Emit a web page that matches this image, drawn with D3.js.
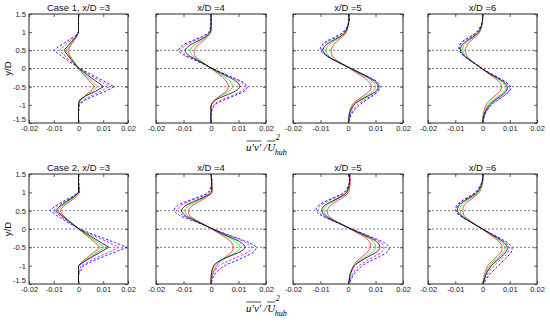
<!DOCTYPE html>
<html>
<head>
<meta charset="utf-8">
<script src="https://cdn.jsdelivr.net/npm/d3@7"></script>
<style>
  body { margin: 0; background: #fff; }
  svg { display: block; }
  text { font-family: "Liberation Sans", Arial, sans-serif; }
</style>
</head>
<body>
<div id="chart"></div>
<script>
// y/D stations shared by every profile (top to bottom)
const yD = [1.5, 1.25, 1.0, 0.875, 0.75, 0.625, 0.5, 0.375, 0.25, 0.125, 0, -0.125, -0.25, -0.375, -0.5, -0.625, -0.75, -0.875, -1.0, -1.25, -1.5];

// order of the rows inside every panel array below
const seriesNames = ['red', 'green', 'magenta', 'blue', 'black'];

// u'v'/U_hub^2 profiles, values in units of 1e-3
const case1XD3 = [
  [0, 0, 0, -0.7, -2.0, -3.2, -4.2, -3.7, -2.5, -1.2, -0.2, 1.5, 3.2, 4.8, 6.4, 4.8, 2.6, 0.8, 0, 0, 0],
  [0, 0, 0, -0.9, -2.3, -3.7, -5.1, -3.9, -2.6, -1.2, 0.2, 2.0, 3.9, 5.8, 7.7, 5.5, 2.8, 0.6, 0, 0, 0],
  [0, 0, 0, -1.4, -3.5, -5.7, -7.8, -5.9, -3.9, -1.8, 0.4, 3.3, 6.3, 9.3, 12.4, 9.0, 5.0, 1.8, 0.2, 0, 0],
  [0, 0, 0, -1.8, -4.6, -7.5, -10.0, -7.5, -5.0, -2.3, 0.5, 4.0, 7.5, 11.0, 14.5, 11.0, 6.5, 2.5, 0.3, 0, 0],
  [0, 0, 0, -1.0, -2.6, -4.3, -5.8, -4.5, -3.0, -1.5, 0.3, 2.6, 5.0, 7.6, 10.1, 7.0, 3.0, 0.3, 0, 0, 0]
];
const case1XD4 = [
  [0, 0, -0.1, -1.2, -3.0, -5.0, -6.0, -6.0, -4.5, -2.2, 0, 2.2, 4.3, 5.8, 6.3, 5.5, 3.3, 1.3, 0.2, 0, 0],
  [0, 0, -0.2, -1.6, -4.0, -6.4, -7.6, -7.0, -4.8, -2.2, 0.2, 2.8, 5.3, 7.2, 7.9, 6.5, 3.8, 1.2, 0.1, 0, 0],
  [0, 0, -0.6, -3.0, -6.5, -9.5, -10.7, -9.2, -6.0, -2.6, 0.5, 4.0, 7.7, 11.0, 12.6, 11.0, 7.5, 3.5, 1.0, 0, 0],
  [0, 0, -0.8, -3.5, -7.3, -10.5, -11.8, -10.0, -6.5, -2.8, 0.6, 4.2, 8.0, 11.5, 13.2, 12.0, 8.5, 4.5, 1.5, 0, 0],
  [0, 0, -0.3, -2.0, -5.0, -8.0, -9.4, -8.3, -5.5, -2.5, 0.3, 3.5, 6.8, 9.5, 10.5, 8.8, 5.0, 1.5, 0.1, 0, 0]
];
const case1XD5 = [
  [0.1, 0.1, -0.6, -2.0, -4.0, -5.5, -6.1, -5.9, -4.5, -2.0, 0.5, 3.2, 5.8, 7.8, 8.5, 7.8, 5.6, 3.3, 1.5, 0.4, 0.1],
  [0.2, 0.2, -0.8, -2.6, -5.2, -7.3, -8.0, -7.3, -5.2, -2.3, 0.8, 3.9, 6.9, 9.2, 10.0, 9.2, 6.8, 4.0, 1.8, 0.5, 0.1],
  [0.4, 0.3, -1.5, -4.0, -7.2, -9.2, -9.5, -8.1, -5.4, -2.2, 1.1, 4.5, 7.8, 10.4, 11.3, 10.7, 8.5, 5.8, 3.5, 1.0, 0.2],
  [0.5, 0.3, -1.8, -4.5, -7.8, -9.8, -10.0, -8.3, -5.5, -2.2, 1.2, 4.6, 8.0, 10.8, 11.7, 11.0, 9.0, 6.5, 4.3, 1.3, 0.3],
  [0.3, 0.2, -1.0, -3.0, -6.0, -8.3, -9.1, -8.0, -5.5, -2.3, 1.0, 4.3, 7.5, 10.0, 11.0, 10.2, 7.5, 4.5, 2.2, 0.6, 0.2]
];
const case1XD6 = [
  [0, -0.1, -1.0, -2.5, -4.5, -5.8, -6.2, -5.9, -4.6, -2.5, -0.3, 1.9, 4.2, 6.2, 7.0, 6.4, 4.6, 2.7, 1.3, 0.3, 0],
  [0, -0.1, -1.2, -3.0, -5.4, -7.0, -7.2, -6.6, -4.9, -2.6, -0.3, 2.2, 4.9, 7.3, 8.6, 8.1, 6.1, 3.8, 2.0, 0.5, 0],
  [0.1, -0.2, -2.0, -4.3, -6.9, -8.3, -8.4, -7.2, -5.1, -2.6, -0.1, 2.6, 5.6, 8.4, 10.0, 9.6, 7.6, 5.2, 3.0, 0.9, 0.1],
  [0.1, -0.2, -2.2, -4.6, -7.2, -8.5, -8.5, -7.3, -5.1, -2.6, -0.1, 2.7, 5.8, 8.6, 10.3, 9.9, 8.0, 5.5, 3.3, 1.0, 0.1],
  [0, -0.1, -1.5, -3.5, -6.0, -7.7, -8.0, -7.0, -5.0, -2.6, -0.3, 2.3, 5.2, 7.8, 9.1, 8.7, 6.8, 4.5, 2.6, 0.7, 0]
];
const case2XD3 = [
  [0, 0, 0.5, -1.0, -3.4, -6.0, -7.4, -6.2, -4.3, -2.1, 0, 2.3, 4.6, 6.8, 8.8, 6.5, 4.0, 1.7, 0, 0, 0],
  [0, 0, 0, -1.7, -4.2, -6.8, -8.4, -6.6, -4.4, -2.1, 0.2, 2.8, 5.4, 8.0, 10.5, 7.8, 5.0, 2.3, 0, 0, 0],
  [0, 0, 0.2, -2.4, -5.5, -8.5, -10.1, -7.8, -5.2, -2.5, 0.4, 4.3, 8.4, 12.5, 16.3, 12.5, 8.3, 4.4, 1.0, 0, 0],
  [0, 0.2, 0.3, -2.8, -6.3, -9.5, -11.5, -9.0, -6.0, -3.0, 0.5, 5.0, 10.0, 15.0, 19.5, 15.0, 10.2, 5.8, 2.0, 0, 0],
  [0, 0, 0, -2.0, -4.8, -7.5, -9.2, -7.0, -4.6, -2.2, 0.3, 3.2, 6.2, 9.3, 12.2, 9.0, 5.8, 2.6, 0, 0, 0]
];
const case2XD4 = [
  [0, 0.3, 0.4, -1.5, -4.3, -7.0, -8.2, -7.8, -5.5, -2.5, 0.3, 3.0, 5.6, 7.5, 8.1, 7.5, 5.5, 3.5, 2.0, 0.5, 0],
  [0, 0.2, 0.2, -2.0, -5.3, -8.3, -9.5, -8.6, -5.9, -2.7, 0.4, 3.6, 6.8, 9.4, 10.5, 9.3, 6.3, 3.2, 1.2, 0.2, 0],
  [0, 0.3, -0.7, -3.8, -8.0, -11.2, -11.9, -10.3, -6.8, -3.0, 0.7, 4.7, 9.0, 12.8, 14.8, 13.5, 10.0, 6.2, 3.0, 0.6, 0],
  [0, 0.3, -1.0, -4.5, -9.0, -12.5, -13.3, -11.5, -7.5, -3.2, 0.8, 5.0, 9.6, 14.0, 16.4, 15.5, 12.5, 8.8, 5.0, 1.2, 0],
  [0, 0.2, 0, -2.5, -6.3, -9.5, -10.7, -9.5, -6.3, -2.8, 0.5, 4.0, 7.8, 11.0, 12.4, 10.5, 6.5, 3.0, 1.0, 0.1, 0]
];
const case2XD5 = [
  [0.6, 0.8, 0.2, -1.6, -4.3, -6.6, -7.5, -7.2, -5.2, -2.2, 0.8, 3.8, 6.5, 8.0, 8.1, 7.2, 5.2, 3.3, 2.0, 0.7, 0.3],
  [0.5, 0.5, -0.3, -2.5, -5.5, -8.0, -8.8, -8.0, -5.6, -2.3, 0.9, 4.3, 7.5, 9.5, 10.0, 9.0, 6.5, 4.0, 2.2, 0.7, 0.3],
  [0.6, 0.5, -1.1, -4.0, -7.6, -10.3, -10.9, -9.3, -6.1, -2.4, 1.3, 5.2, 9.0, 12.0, 13.1, 12.3, 9.6, 6.6, 4.0, 1.5, 0.4],
  [0.6, 0.5, -1.4, -4.6, -8.3, -11.0, -11.6, -9.8, -6.4, -2.5, 1.4, 5.5, 9.6, 13.2, 15.0, 14.3, 11.5, 8.2, 5.2, 2.0, 0.5],
  [0.5, 0.5, -0.5, -2.8, -6.0, -8.8, -9.6, -8.5, -5.8, -2.3, 1.0, 4.7, 8.3, 10.8, 11.6, 10.4, 7.5, 4.6, 2.4, 0.8, 0.3]
];
const case2XD6 = [
  [0.2, 0, -1.2, -3.0, -5.3, -6.9, -7.2, -6.8, -5.0, -2.7, -0.2, 2.2, 4.5, 6.4, 7.2, 6.8, 5.3, 3.6, 2.0, 0.7, 0.2],
  [0.2, -0.1, -1.6, -3.7, -6.3, -8.0, -8.3, -7.5, -5.4, -2.8, -0.1, 2.5, 5.1, 7.2, 8.2, 7.8, 6.2, 4.3, 2.7, 1.0, 0.2],
  [0.2, -0.3, -2.4, -4.9, -7.6, -9.2, -9.5, -8.2, -5.8, -2.9, 0.1, 3.0, 6.0, 8.5, 9.7, 9.4, 8.0, 6.0, 4.2, 1.7, 0.3],
  [0.2, -0.4, -2.6, -5.2, -7.9, -9.6, -9.9, -8.5, -5.9, -2.9, 0.1, 3.2, 6.4, 9.2, 10.8, 10.6, 9.2, 7.5, 5.8, 2.5, 0.3],
  [0.2, -0.2, -2.0, -4.3, -7.0, -8.8, -9.2, -8.0, -5.6, -2.8, 0, 2.8, 5.6, 8.0, 9.1, 8.6, 7.0, 5.0, 3.3, 1.2, 0.2]
];
const valueUnit = 1e-3;

const panelData = [case1XD3, case1XD4, case1XD5, case1XD6, case2XD3, case2XD4, case2XD5, case2XD6];
const panelTitles = ['Case 1, x/D =3', 'x/D =4', 'x/D =5', 'x/D =6', 'Case 2, x/D =3', 'x/D =4', 'x/D =5', 'x/D =6'];

const xTicks = [-0.02, -0.01, 0, 0.01, 0.02];
const xTickLabels = ['-0.02', '-0.01', '0', '0.01', '0.02'];
const yTicks = [1.5, 1, 0.5, 0, -0.5, -1, -1.5];
const yTickLabels = ['1.5', '1', '0.5', '0', '-0.5', '-1', '-1.5'];
const refLines = [0.5, 0, -0.5];

// line styles for each series
const seriesStyle = {
    red:     { color: '#ff2020', dash: null },
    green:   { color: '#10e010', dash: null },
    magenta: { color: '#ff00ff', dash: '2.5,1.8' },
    blue:    { color: '#1010ff', dash: '2.5,1.8' },
    black:   { color: '#000000', dash: null }
};

const width = 550, height = 322;
const colLeft = [29, 156, 293, 428];
const colRight = [128, 266, 403, 537];
const rowTop = [14, 174];
const rowBottom = [123, 284];

const svg = d3.select('#chart')
    .append('svg')
    .attr('width', width)
    .attr('height', height);

function drawPanel(index) {
    const col = index % 4;
    const row = Math.floor(index / 4);
    const x0 = colLeft[col], x1 = colRight[col];
    const y0 = rowTop[row], y1 = rowBottom[row];
    const w = x1 - x0, h = y1 - y0;

    const xScale = d3.scaleLinear().domain([-0.02, 0.02]).range([0, w]);
    const yScale = d3.scaleLinear().domain([-1.5, 1.5]).range([h, 0]);

    const g = svg.append('g').attr('transform', `translate(${x0},${y0})`);

    // clip curves to the axes box
    const clipId = 'clip' + index;
    g.append('clipPath').attr('id', clipId)
        .append('rect').attr('width', w).attr('height', h);

    // dashed reference lines
    g.selectAll('.ref')
        .data(refLines)
        .enter()
        .append('line')
        .attr('x1', 0).attr('x2', w)
        .attr('y1', d => yScale(d)).attr('y2', d => yScale(d))
        .attr('stroke', '#555')
        .attr('stroke-width', 0.8)
        .attr('stroke-dasharray', '2,2');

    // the profiles, x/D = 3 is drawn straight between stations
    const curve = (col === 0) ? d3.curveLinear : d3.curveCatmullRom.alpha(0.5);
    const line = d3.line()
        .x(d => xScale(d[0] * valueUnit))
        .y(d => yScale(d[1]))
        .curve(curve);

    const curves = g.append('g').attr('clip-path', `url(#${clipId})`);
    panelData[index].forEach((values, i) => {
        const style = seriesStyle[seriesNames[i]];
        const pts = values.map((v, k) => [v, yD[k]]);
        curves.append('path')
            .datum(pts)
            .attr('d', line)
            .attr('fill', 'none')
            .attr('stroke', style.color)
            .attr('stroke-width', style.dash ? 0.9 : 0.8)
            .attr('stroke-dasharray', style.dash);
    });

    // axes, ticks pointing inward like the original
    g.append('g')
        .attr('transform', `translate(0,${h})`)
        .call(d3.axisBottom(xScale).tickValues(xTicks)
            .tickFormat((d, i) => xTickLabels[i]).tickSizeInner(-3).tickSizeOuter(0).tickPadding(3));
    g.append('g')
        .call(d3.axisTop(xScale).tickValues(xTicks).tickFormat('').tickSizeInner(-3).tickSizeOuter(0));
    const left = g.append('g')
        .call(d3.axisLeft(yScale).tickValues(yTicks)
            .tickFormat((d, i) => col === 0 ? yTickLabels[i] : '').tickSizeInner(-3).tickSizeOuter(0).tickPadding(3));
    g.append('g')
        .attr('transform', `translate(${w},0)`)
        .call(d3.axisRight(yScale).tickValues(yTicks).tickFormat('').tickSizeInner(-3).tickSizeOuter(0));

    // lift the lowest y label a little off the x labels
    left.selectAll('.tick text').filter(d => d === -1.5).attr('dy', '-0.15em');

    g.selectAll('.domain').remove();
    g.selectAll('.tick line').attr('stroke', '#333').attr('stroke-width', 0.8);
    g.selectAll('.tick text').style('font-size', '7.5px').style('fill', '#222');

    // box
    g.append('rect')
        .attr('x', 0).attr('y', 0)
        .attr('width', w).attr('height', h)
        .attr('fill', 'none')
        .attr('stroke', '#262626')
        .attr('stroke-width', 1);

    // title
    g.append('text')
        .attr('x', w / 2)
        .attr('y', -3.5)
        .attr('text-anchor', 'middle')
        .style('font-size', '9.5px')
        .style('fill', '#111')
        .text(panelTitles[index]);

    // y label on the first column
    if (col === 0) {
        g.append('text')
            .attr('transform', `translate(${-x0 + 11},${h / 2}) rotate(-90)`)
            .attr('text-anchor', 'middle')
            .style('font-size', '9.5px')
            .style('fill', '#111')
            .text('y/D');
    }
}

function drawXLabel(x, y) {
    // overlined u'v' / U_hub^2, built from pieces
    const g = svg.append('g')
        .attr('transform', `translate(${x},${y})`);
    const piece = (px, py, size, txt) => g.append('text')
        .attr('x', px).attr('y', py)
        .style('fill', '#000')
        .style('font-family', '"Liberation Serif", "DejaVu Serif", serif')
        .style('font-style', 'italic')
        .style('font-size', size + 'px')
        .text(txt);
    const t1 = piece(0, 0, 11, 'u\u2032v\u2032');
    const w1 = t1.node().getComputedTextLength();
    g.append('line').attr('x1', 0.5).attr('x2', w1).attr('y1', -10).attr('y2', -10)
        .attr('stroke', '#000').attr('stroke-width', 0.7);
    const t2 = piece(w1 + 2.5, 0, 11, '/');
    const ux = w1 + 2.5 + t2.node().getComputedTextLength() + 0.5;
    const t3 = piece(ux, 0, 11, 'U');
    const w3 = t3.node().getComputedTextLength();
    g.append('line').attr('x1', ux).attr('x2', ux + w3).attr('y1', -10).attr('y2', -10)
        .attr('stroke', '#000').attr('stroke-width', 0.7);
    piece(ux + w3 + 0.5, -11, 8, '2');
    piece(ux + w3 - 0.5, 3.5, 8, 'hub');
}

for (let i = 0; i < 8; i++) drawPanel(i);
drawXLabel(246, 151);
drawXLabel(246, 312);
</script>
</body>
</html>
